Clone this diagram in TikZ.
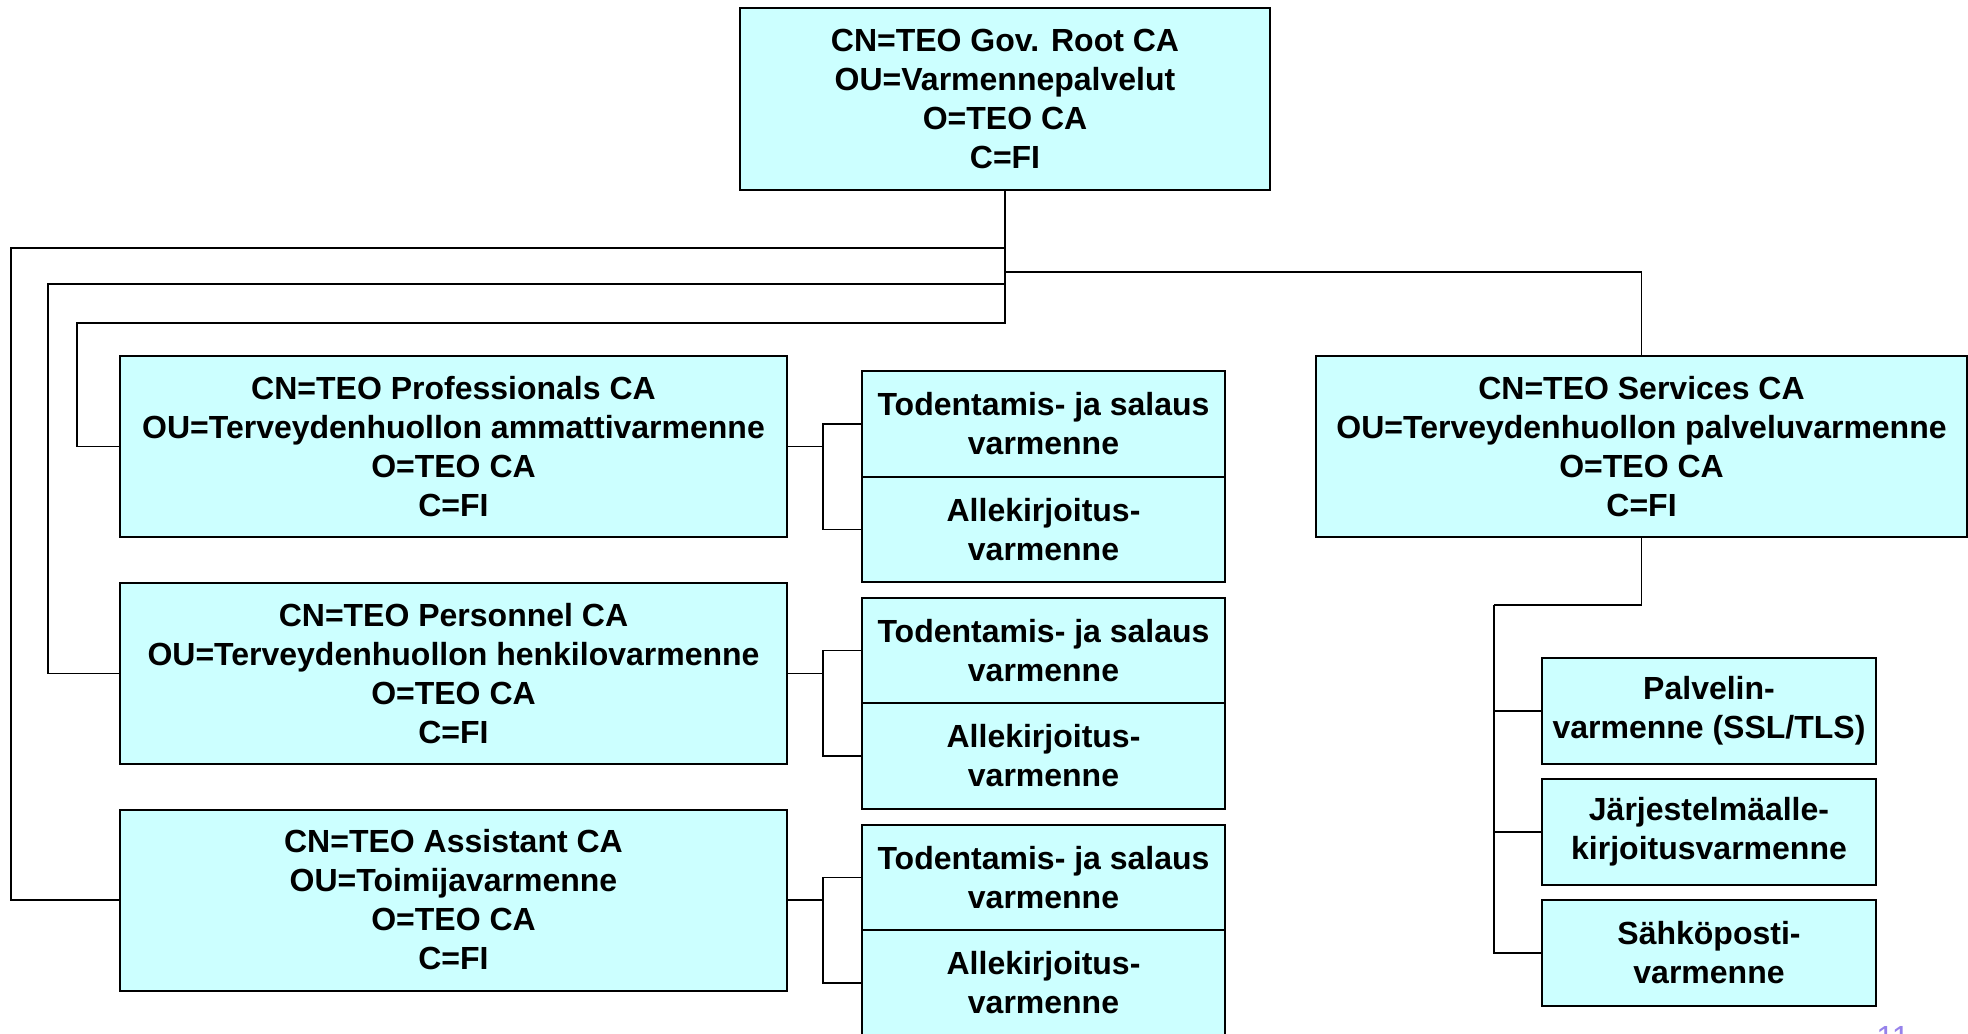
\documentclass[tikz,border=0pt]{standalone}
\usepackage{fontspec}
\setmainfont{Liberation Sans}
\definecolor{boxfill}{RGB}{204,255,255}
\definecolor{pgnum}{RGB}{150,130,235}
\begin{document}
\begin{tikzpicture}[x=0.5pt,y=-0.5pt,
  cabox/.style={draw=black, fill=boxfill, line width=1pt, align=center,
    font=\bfseries\fontsize{16}{19.5}\selectfont, inner sep=0pt},
  bigbox/.style={cabox, minimum width=333.5pt, minimum height=90.5pt},
  certbox/.style={cabox, minimum width=181.5pt, minimum height=52.75pt},
  subbox/.style={cabox, minimum width=167pt, minimum height=53pt},
  conn/.style={draw=black, line width=0.8pt}]
\useasboundingbox (0,0) rectangle (1968,1033);
\clip (0,0) rectangle (1968,1033);
\fill[white] (0,0) rectangle (1968,1033);

% root
\node[cabox, minimum width=265pt, minimum height=91pt] (root) at (1005,99)
  {CN=TEO Gov. Root CA\\OU=Varmennepalvelut\\O=TEO CA\\C=FI};

% left CAs
\node[bigbox] (prof) at (453.5,446.5)
  {CN=TEO Professionals CA\\OU=Terveydenhuollon ammattivarmenne\\O=TEO CA\\C=FI};
\node[bigbox] (pers) at (453.5,673.5)
  {CN=TEO Personnel CA\\OU=Terveydenhuollon henkilovarmenne\\O=TEO CA\\C=FI};
\node[bigbox] (asst) at (453.5,900)
  {CN=TEO Assistant CA\\OU=Toimijavarmenne\\O=TEO CA\\C=FI};

% services CA
\node[cabox, minimum width=325.5pt, minimum height=90.5pt] (serv) at (1641.5,446.5)
  {CN=TEO Services CA\\OU=Terveydenhuollon palveluvarmenne\\O=TEO CA\\C=FI};

% certificate boxes
\node[certbox] (c1a) at (1043.5,424) {Todentamis- ja salaus\\varmenne};
\node[certbox] (c1b) at (1043.5,529.5) {Allekirjoitus-\\varmenne};
\node[certbox] (c2a) at (1043.5,650.5) {Todentamis- ja salaus\\varmenne};
\node[certbox] (c2b) at (1043.5,756) {Allekirjoitus-\\varmenne};
\node[certbox] (c3a) at (1043.5,877.5) {Todentamis- ja salaus\\varmenne};
\node[certbox] (c3b) at (1043.5,983) {Allekirjoitus-\\varmenne};

% service sub boxes
\node[subbox] (s1) at (1709,711) {Palvelin-\\varmenne (SSL/TLS)};
\node[subbox] (s2) at (1709,832) {Järjestelmäalle-\\kirjoitusvarmenne};
\node[subbox] (s3) at (1709,953) {Sähköposti-\\varmenne};

% junction coordinates
\coordinate (jA) at (11,248);
\coordinate (jB) at (48,284);
\coordinate (jC) at (77,323);
\coordinate (jR) at (1005,272);
\coordinate (k1) at (823,446.5);
\coordinate (k2) at (823,673.5);
\coordinate (k3) at (823,900);
\coordinate (ks) at (1494,605);

% root connectors
\draw[conn] (root.south) |- (jA) |- (asst.west);
\draw[conn] (root.south) |- (jB) |- (pers.west);
\draw[conn] (root.south) |- (jC) |- (prof.west);
\draw[conn] (jR) -| (serv.north);

% certificate connectors
\draw[conn] (prof.east) -- (k1);
\draw[conn] (c1a.west) -| (k1) |- (c1b.west);
\draw[conn] (pers.east) -- (k2);
\draw[conn] (c2a.west) -| (k2) |- (c2b.west);
\draw[conn] (asst.east) -- (k3);
\draw[conn] (c3a.west) -| (k3) |- (c3b.west);

% services connectors
\draw[conn] (serv.south) |- (ks);
\draw[conn] (ks) |- (s1.west);
\draw[conn] (ks) |- (s2.west);
\draw[conn] (ks) |- (s3.west);

% page number (mostly cut off)
\node[anchor=north west, inner sep=0pt, text=pgnum, font=\fontsize{16}{16}\selectfont] (pgn) at (1876,1026) {11};
\end{tikzpicture}
\end{document}
